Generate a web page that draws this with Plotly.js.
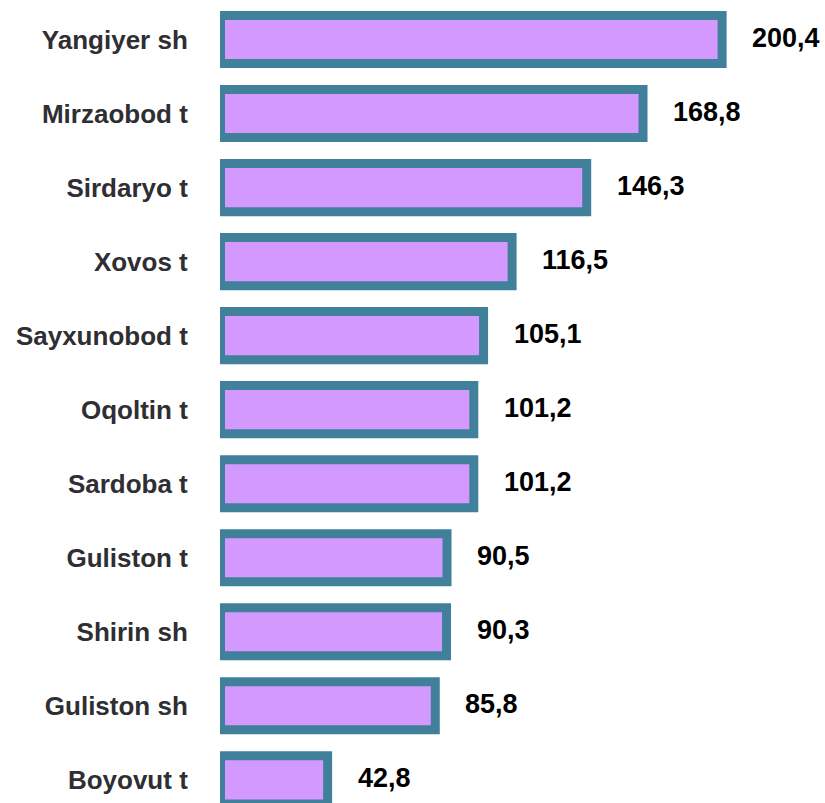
<!DOCTYPE html>
<html>
<head>
<meta charset="utf-8">
<script src="https://cdn.plot.ly/plotly-3.0.1.min.js"></script>
<style>html,body{margin:0;padding:0;background:#fff;}#chart{width:825px;height:803px;}</style>
</head>
<body>
<div id="chart"></div>
<script>
var categories = ["Yangiyer sh","Mirzaobod t","Sirdaryo t","Xovos t","Sayxunobod t","Oqoltin t","Sardoba t","Guliston t","Shirin sh","Guliston sh","Boyovut t"];
var values = [200.4,168.8,146.3,116.5,105.1,101.2,101.2,90.5,90.3,85.8,42.8];
var valueLabels = ["200,4","168,8","146,3","116,5","105,1","101,2","101,2","90,5","90,3","85,8","42,8"];

var trace = {
  type: "bar",
  orientation: "h",
  y: categories,
  x: values,
  width: 0.65,
  marker: {color: "#D499FF", line: {color: "#40809A", width: 9}},
  hoverinfo: "none"
};

var annotations = categories.map(function(c, i){
  return {x: values[i], y: c, xref: "x", yref: "y", text: valueLabels[i], showarrow: false,
    xanchor: "left", xshift: 28, yanchor: "middle", yshift: 2,
    font: {family: "Liberation Sans, Arial, sans-serif", size: 27, color: "#000", weight: 700}};
});

var layout = {
  width: 825, height: 803,
  margin: {l: 220, r: 0, t: 0, b: 0, pad: 0},
  paper_bgcolor: "#fff", plot_bgcolor: "#fff",
  showlegend: false,
  xaxis: {range: [-0.2, 241.5], visible: false, fixedrange: true},
  yaxis: {type: "category", categoryorder: "array", categoryarray: categories,
    range: [10.313, -0.534], showgrid: false, zeroline: false, showline: false,
    ticks: "outside", ticklen: 26, tickcolor: "rgba(0,0,0,0)",
    tickfont: {family: "Liberation Sans, Arial, sans-serif", size: 26, color: "#2E2E33", weight: 700}},
  annotations: annotations
};

Plotly.newPlot("chart", [trace], layout, {displayModeBar: false, staticPlot: true});
</script>
</body>
</html>
